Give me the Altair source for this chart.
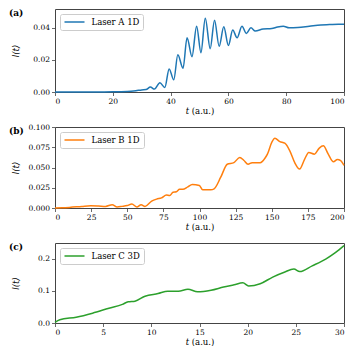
import altair as alt
import pandas as pd

# Panel (a): Laser A 1D
tA = [0, 10, 20, 25, 28, 30, 31.5, 33, 34.4, 36.3, 38, 39.5, 41.1, 42.5, 44.3, 45.7, 47.4, 49, 50.5, 52,
      53.7, 55.2, 56.8, 58.4, 60, 61.5, 63, 64.7, 66.2, 67.8, 69.3, 72, 75, 77, 79, 81, 84, 88, 92, 95, 98, 100]
IA = [0, 0, 0.0001, 0.0003, 0.0008, 0.0013, 0.0015, 0.0031, 0.0018, 0.0057, 0.0028, 0.0144, 0.0076, 0.0232,
      0.0148, 0.0338, 0.022, 0.041, 0.0245, 0.046, 0.027, 0.0447, 0.0285, 0.0406, 0.029, 0.0386, 0.0338, 0.041,
      0.0365, 0.040, 0.038, 0.0392, 0.0395, 0.0405, 0.041, 0.040, 0.0402, 0.041, 0.0418, 0.042, 0.0422, 0.0422]

# Panel (b): Laser B 1D
tB = [0, 5, 10, 18.6, 24.8, 30, 35, 39.6, 43, 46.4, 50, 53.2, 56.7, 59.6, 62.3, 66.9, 70.3, 73.7, 77.1, 79.4,
      81.7, 84, 86.2, 88.5, 91.9, 95, 99.9, 102.2, 107.8, 110.1, 114.7, 119.2, 123.8, 127.9, 130.6, 133.6,
      136.4, 142, 145.4, 147, 150, 152.2, 155.6, 159, 162.5, 165.9, 169.3, 172.7, 175.6, 179.5, 182.9, 185.7,
      189.1, 192.7, 195.4, 197.7, 200]
IB = [0, 0.0002, 0.0007, 0.002, 0.0028, 0.0025, 0.002, 0.004, 0.0013, 0.002, 0.003, 0.005, 0.0012, 0.004,
      0.002, 0.0085, 0.011, 0.0125, 0.016, 0.0155, 0.0195, 0.020, 0.023, 0.023, 0.026, 0.029, 0.0278, 0.0225,
      0.0225, 0.0237, 0.038, 0.054, 0.056, 0.0624, 0.059, 0.054, 0.056, 0.056, 0.0617, 0.0665, 0.081, 0.086,
      0.082, 0.080, 0.0706, 0.056, 0.048, 0.060, 0.0686, 0.0665, 0.074, 0.0767, 0.0665, 0.057, 0.060, 0.0585,
      0.0525]

# Panel (c): Laser C 3D
tC = [0, 0.5, 2.2, 3.9, 5.6, 7, 7.6, 8.3, 9.35, 10.7, 11.7, 12.8, 13.8, 14.8, 16.2, 17.5, 18.6, 19.5, 20.1,
      21.3, 22.6, 23.8, 24.8, 25.4, 26.7, 28.1, 29.1, 30]
IC = [0.002, 0.010, 0.018, 0.0306, 0.046, 0.058, 0.066, 0.068, 0.0835, 0.0917, 0.099, 0.099, 0.105, 0.097,
      0.102, 0.112, 0.119, 0.125, 0.115, 0.122, 0.143, 0.158, 0.168, 0.16, 0.178, 0.199, 0.219, 0.241]

labels = ["(a)", "(b)", "(c)"]
names = ["Laser A 1D", "Laser B 1D", "Laser C 3D"]
colors = ["#1f77b4", "#ff7f0e", "#2ca02c"]
xticksA = [0, 20, 40, 60, 80, 100]
xticksB = [0, 25, 50, 75, 100, 125, 150, 175, 200]
xticksC = [0, 5, 10, 15, 20, 25, 30]
yticksA = [0.0, 0.02, 0.04]
yticksB = [0.0, 0.025, 0.05, 0.075, 0.1]
yticksC = [0.0, 0.1, 0.2]

W = 289


def panel(t, I, label, name, color, xdom, ydom, xticks, yticks, yfmt, h):
    df = pd.DataFrame({"t": t, "I": I, "s": name})
    line = alt.Chart(df).mark_line(strokeWidth=1.5, interpolate="monotone").encode(
        x=alt.X("t:Q", scale=alt.Scale(domain=xdom, nice=False, zero=False),
                axis=alt.Axis(values=xticks, format="d", title="𝑡 (a.u.)", titlePadding=1)),
        y=alt.Y("I:Q", scale=alt.Scale(domain=ydom, nice=False, zero=False),
                axis=alt.Axis(values=yticks, format=yfmt, title="I(t)", titleFont="DejaVu Sans",
                              titleFontStyle="italic", titleX=-40, titleY=h / 2,
                              titleBaseline="middle", titleAlign="center", titleAngle=270)),
        color=alt.Color("s:N", scale=alt.Scale(domain=[name], range=[color]),
                        legend=alt.Legend(title=None, orient="top-left", offset=5, padding=3.5,
                                          fillColor="white", strokeColor="#cccccc", cornerRadius=2,
                                          labelFont="DejaVu Serif", labelFontSize=8.5,
                                          symbolType="M-1,0H3", symbolSize=100, symbolStrokeWidth=1.5,
                                          clipHeight=9, labelOffset=16)),
    )
    lab = alt.Chart(pd.DataFrame({"l": [label]})).mark_text(
        align="left", baseline="top", font="DejaVu Serif", fontWeight="bold", fontSize=9, color="black"
    ).encode(text="l:N", x=alt.value(-46), y=alt.value(0))
    return alt.layer(line, lab).properties(width=W, height=h)


pa = panel(tA, IA, labels[0], names[0], colors[0], [0, 100], [0, 0.0517], xticksA, yticksA, ".2f", 83)
pb = panel(tB, IB, labels[1], names[1], colors[1], [0, 200], [0, 0.1], xticksB, yticksB, ".3f", 81)
pc = panel(tC, IC, labels[2], names[2], colors[2], [0, 30], [0, 0.249], xticksC, yticksC, ".1f", 80)

chart = alt.vconcat(pa, pb, pc, spacing=35, bounds="flush").resolve_scale(color="independent").properties(
    padding=0
).configure_view(stroke="#444444", strokeWidth=1).configure_axis(
    labelFont="DejaVu Serif", labelFontSize=7.5, labelColor="black", labelPadding=2,
    titleFont="DejaVu Serif", titleFontSize=8.5, titleFontWeight="normal", titleColor="black",
    domain=False, grid=False, tickSize=3.5, tickColor="#444444", tickWidth=0.8,
)

chart.save("out.html", embed_options={"renderer": "svg", "actions": False})
